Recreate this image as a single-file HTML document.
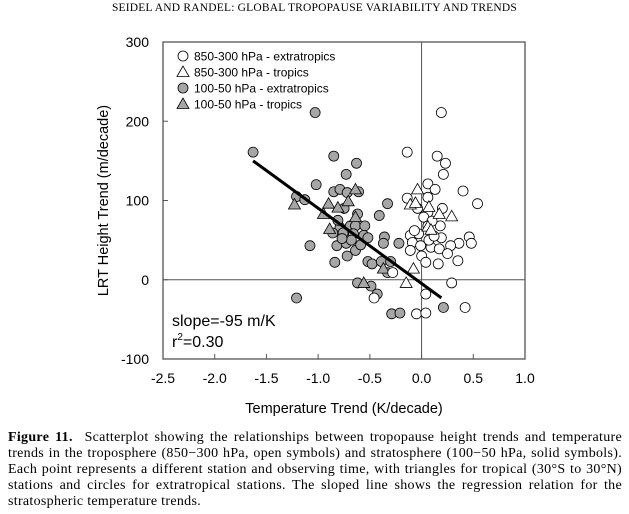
<!DOCTYPE html>
<html><head><meta charset="utf-8">
<style>
body{margin:0;background:#fff;width:629px;height:514px;overflow:hidden;position:relative;font-family:"Liberation Sans",sans-serif}
#hdr{position:absolute;left:0;width:629px;top:2px;text-align:center;font-family:"Liberation Serif",serif;font-size:11.5px;letter-spacing:0.2px}
#cap{position:absolute;left:8px;top:430px;width:614px;font-family:"Liberation Serif",serif;font-size:14px;letter-spacing:0.3px;line-height:16px;text-align:justify}
svg{position:absolute;left:0;top:0}
</style></head><body>
<div id="hdr">SEIDEL AND RANDEL: GLOBAL TROPOPAUSE VARIABILITY AND TRENDS</div>
<svg id="chart" width="629" height="430"></svg>
<div id="cap"><b>Figure 11.</b>&nbsp; Scatterplot showing the relationships between tropopause height trends and temperature trends in the troposphere (850&#8722;300 hPa, open symbols) and stratosphere (100&#8722;50 hPa, solid symbols). Each point represents a different station and observing time, with triangles for tropical (30°S to 30°N) stations and circles for extratropical stations. The sloped line shows the regression relation for the stratospheric temperature trends.</div>
<script>
const xTicks=[-2.5,-2.0,-1.5,-1.0,-0.5,0.0,0.5,1.0];
const yTicks=[-100,0,100,200,300];
const openCircX=[0.22,-0.11,0.18,0.26,0.24,0.09,0.16,0.43,-0.11,0.09,0.57,-0.01,0.23,0.09,0.05,0.21,0.09,-0.08,0,0.22,0.49,0.51,0.39,0.31,-0.06,0.02,0.12,0.20,-0.08,0.28,0.03,0.07,0.19,0.38,0.32,0.07,-0.02,0.07,0.45,-0.25,-0.43,0.13,-0.04,0.10,0.15];
const openCircY=[211,161,156,147,133,121,114,112,103,104,96,90,90,85,79,68,68,56,58,53,54,46,46,43,47,43,41,39,37,33,30,22,20,24,-4,-18,-43,-42,-35,9,-23,74,62,50,55];
const openTriX=[-0.01,-0.08,-0.03,0.10,0.20,0.32,0.09,0.12,-0.05,-0.12];
const openTriY=[114,95,97,92,83,80,67,63,14,-4];
const fillCircX=[-1.0,-1.6,-0.82,-0.6,-0.70,-0.99,-0.82,-0.76,-0.69,-0.58,-1.18,-1.10,-0.30,-0.38,-0.59,-0.72,-0.66,-0.61,-0.52,-0.76,-0.83,-0.73,-0.63,-0.53,-0.49,-0.33,-0.34,-0.19,-1.05,-0.79,-0.70,-0.61,-0.69,-0.56,-0.81,-0.49,-0.45,-0.36,-0.27,-0.30,-0.59,-0.46,-0.40,-1.18,-0.26,-0.18,0.24,-0.78,-0.65,-0.74];
const fillCircY=[211,161,156,147,133,120,111,114,110,111,105,101,96,81,83,90,68,68,68,66,59,59,58,56,53,54,46,46,43,43,46,37,30,44,22,23,20,23,23,9,-4,-8,-18,-23,-43,-42,-35,75,50,52];
const fillTriX=[-1.20,-0.87,-0.68,-0.78,-0.92,-0.61,-0.61,-0.86,-0.34,-0.53];
const fillTriY=[95,96,99,91,83,79,114,64,14,-4];
const slope=-95, intercept=-2, fitX=[-1.6,0.22];

const svg=document.getElementById('chart');
const NS='http://www.w3.org/2000/svg';
const L=163,R=525,T=42,B=359;
const xs=v=>L+(v+2.5)/3.5*(R-L)-3;
const xa=v=>L+(v+2.5)/3.5*(R-L);
const ys=v=>B-(v+100)/400*(B-T);
function mk(tag,at,parent){const e=document.createElementNS(NS,tag);for(const k in at)e.setAttribute(k,at[k]);(parent||svg).appendChild(e);return e;}

let f=mk('rect',{x:L,y:T,width:R-L,height:B-T,fill:'none',stroke:'#555','stroke-width':1.3});


let zh=mk('line',{x1:L,x2:R,y1:ys(0),y2:ys(0),stroke:'#555','stroke-width':1});


let zv=mk('line',{x1:xa(0),x2:xa(0),y1:T,y2:B,stroke:'#555','stroke-width':1});



xTicks.forEach(t=>{
 const x=xa(t);
 let l=mk('line',{x1:x,x2:x,y1:B,y2:B-5,stroke:'#555'});
 
 
 let tx=mk('text',{x:x,y:B+24,'text-anchor':'middle','font-size':14,fill:'#000'});
 tx.textContent=t.toFixed(1);
 
 
});
yTicks.forEach(t=>{
 const y=ys(t);
 let l=mk('line',{x1:L,x2:L+5,y1:y,y2:y,stroke:'#555'});
 
 
 let tx=mk('text',{x:L-14,y:y+5,'text-anchor':'end','font-size':14,fill:'#000'});
 tx.textContent=t;
 
 
});
let xt=mk('text',{x:xa(-0.75),y:413,'text-anchor':'middle','font-size':14.5});
xt.textContent='Temperature Trend (K/decade)';


let yt=mk('text',{x:108,y:(T+B)/2,'text-anchor':'middle','font-size':14.5,transform:'rotate(-90 108 '+((T+B)/2)+')'});
yt.textContent='LRT Height Trend (m/decade)';



function circ(x,y,fill,name){let c=mk('circle',{cx:xs(x),cy:ys(y),r:5,fill:fill,stroke:'#000','stroke-width':0.8});
 
 }
function tri(x,y,fill,name){const cx=xs(x),cy=ys(y);let p=mk('polygon',{points:`${cx},${cy-6} ${cx-6},${cy+4.5} ${cx+6},${cy+4.5}`,fill:fill,stroke:'#000','stroke-width':0.8});
 
 }
fillCircX.forEach((x,i)=>circ(x,fillCircY[i],'#a6a6a6','point-100-50-extratropics'));
fillTriX.forEach((x,i)=>tri(x,fillTriY[i],'#a6a6a6','point-100-50-tropics'));
openCircX.forEach((x,i)=>circ(x,openCircY[i],'#fff','point-850-300-extratropics'));
openTriX.forEach((x,i)=>tri(x,openTriY[i],'#fff','point-850-300-tropics'));

let rl=mk('line',{x1:xs(fitX[0]),y1:ys(intercept+slope*fitX[0]),x2:xs(fitX[1]),y2:ys(intercept+slope*fitX[1]),stroke:'#000','stroke-width':3});



const legend=[['850-300 hPa - extratropics','c','#fff'],['850-300 hPa - tropics','t','#fff'],['100-50 hPa - extratropics','c','#a6a6a6'],['100-50 hPa - tropics','t','#a6a6a6']];
legend.forEach((e,i)=>{
 const y=56+i*16;
 const g=mk('g',{});
 
 
 if(e[1]=='c')mk('circle',{cx:183,cy:y,r:5,fill:e[2],stroke:'#000','stroke-width':0.8},g);
 else mk('polygon',{points:`183,${y-6} 177,${y+4.5} 189,${y+4.5}`,fill:e[2],stroke:'#000','stroke-width':0.8},g);
 const t=mk('text',{x:194,y:y+4.5,'font-size':12},g);t.textContent=e[0];
});
let s1=mk('text',{x:172,y:326,'font-size':16});
s1.textContent='slope=-95 m/K';


let s2=mk('text',{x:172,y:347,'font-size':16});
s2.innerHTML='r<tspan dy="-7" font-size="10">2</tspan><tspan dy="7">=0.30</tspan>';


</script>
</body></html>
